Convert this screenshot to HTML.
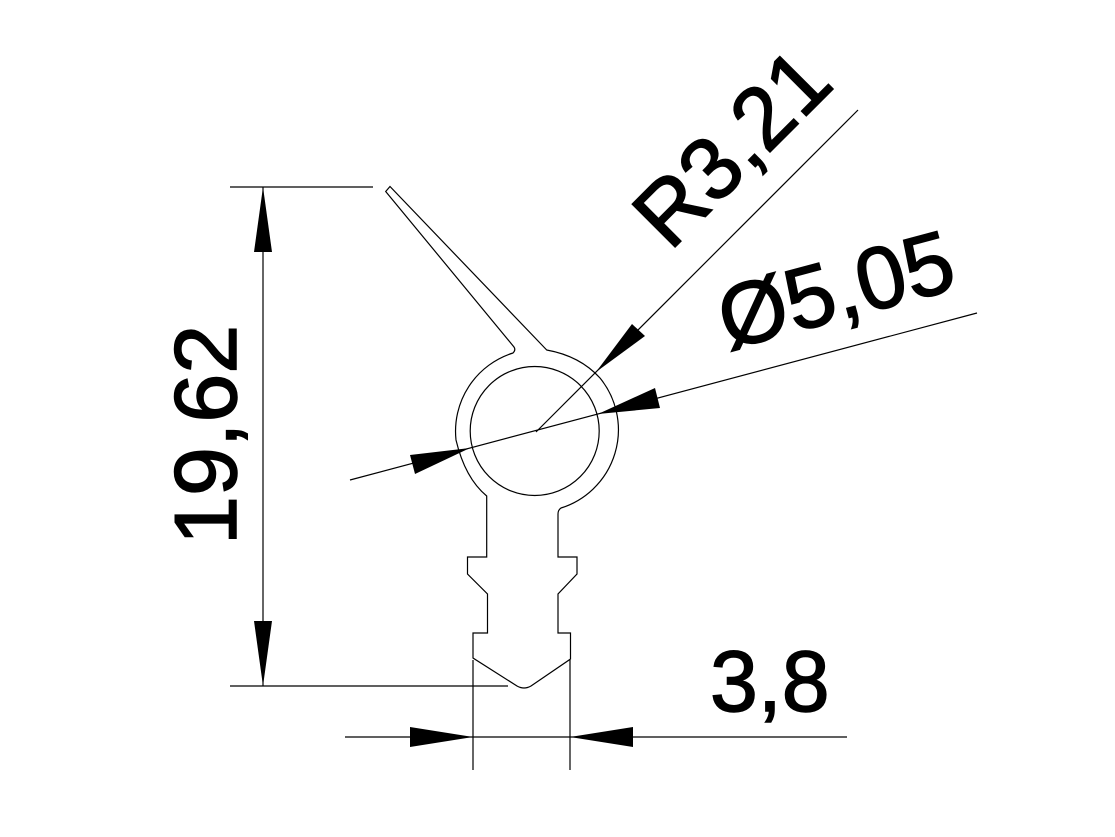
<!DOCTYPE html>
<html><head><style>html,body{margin:0;padding:0;background:#fff}</style></head>
<body>
<svg width="1115" height="832" viewBox="0 0 1115 832" xmlns="http://www.w3.org/2000/svg" font-family="Liberation Sans, Arial, sans-serif">
<g fill="none" stroke="#000" stroke-width="1.2">
<path d="M514,347 L385.7,191.5 L390,186.5 L546.7,350 Q580,356 600,378 A82,82 0 0 1 561,508 Q558,510 558,514 L558,557 L577,557 L577,574 L558,594 L558,633 L570.5,633 L570.5,659 L531,686 Q524,690 517,686 L473,658 L473,633 L487.5,633 L487.5,594 L467.5,574 L467.5,557 L486.7,557 L486.7,496 Q465,478 456,440 A82,82 0 0 1 513,353 Q516,350 514,347 Z"/>
<circle cx="534.7" cy="431" r="64.5"/>
<line x1="230" y1="187" x2="373" y2="187"/>
<line x1="230" y1="686" x2="508" y2="686"/>
<line x1="263" y1="187" x2="263" y2="686"/>
<line x1="345" y1="737" x2="847" y2="737"/>
<line x1="473" y1="660" x2="473" y2="770"/>
<line x1="570" y1="660" x2="570" y2="770"/>
<line x1="536" y1="432" x2="858" y2="110"/>
<line x1="350" y1="480" x2="977" y2="313"/>
</g>
<g fill="#000">
<polygon points="263,187 254,252 272,252"/>
<polygon points="263,686 254,621 272,621"/>
<polygon points="473,737 410,727 410,747"/>
<polygon points="570,737 633,727 633,747"/>
<polygon points="596,372 632,324 645,336"/>
<polygon points="470,448 410,455 415,474"/>
<polygon points="598,414 655,388 660,408"/>
</g>
<g fill="#000" stroke="#000" stroke-width="1.5" font-size="86">
<text transform="translate(236,545) rotate(-90)" font-size="88">19,62</text>
<text x="710" y="711">3,8</text>
<text font-size="88" transform="translate(670,252) rotate(-45)">R3,21</text>
<text font-size="88" transform="translate(728,350) rotate(-15)">Ø5,05</text>
</g>
</svg>
</body></html>
